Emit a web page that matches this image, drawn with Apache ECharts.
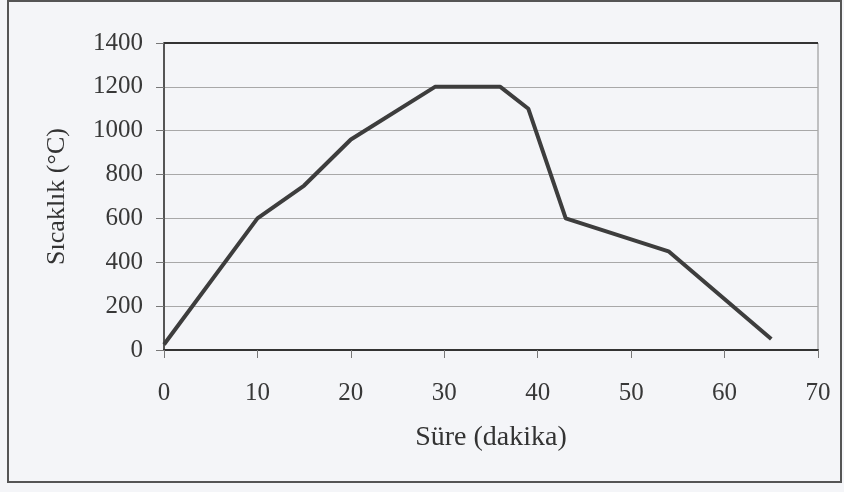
<!DOCTYPE html>
<html>
<head>
<meta charset="utf-8">
<script src="https://cdn.jsdelivr.net/npm/echarts@6/dist/echarts.min.js"></script>
<style>
html,body{margin:0;padding:0;background:#f4f5f8;}
#c{width:844px;height:492px;}
</style>
</head>
<body>
<div id="c"></div>
<script>
// Data
const timeMin = [0, 10, 15, 20, 29, 36, 39, 43, 54, 65];
const tempC   = [25, 600, 750, 960, 1200, 1200, 1100, 600, 450, 50];
const xTicks = [0, 10, 20, 30, 40, 50, 60, 70];
const yTicks = [0, 200, 400, 600, 800, 1000, 1200, 1400];
const xTitle = 'Süre (dakika)';
const yTitle = 'Sıcaklık (°C)';

const chart = echarts.init(document.getElementById('c'), null, {renderer:'canvas'});
const font = "'Liberation Serif', 'Times New Roman', serif";
chart.setOption({
  backgroundColor: '#f4f5f8',
  animation: false,
  graphic: [{
    type: 'rect',
    shape: {x: 8, y: 1, width: 833, height: 481},
    style: {fill: 'none', stroke: '#555', lineWidth: 2},
    silent: true
  }],
  grid: {left: 164, right: 26, top: 43, bottom: 142, show: true,
         borderColor: '#8a8a8a', borderWidth: 1, backgroundColor: 'transparent'},
  xAxis: {
    type: 'value', min: xTicks[0], max: xTicks[xTicks.length-1], interval: 10,
    name: xTitle, nameLocation: 'middle', nameGap: 74,
    nameTextStyle: {fontFamily: font, fontSize: 28, color: '#333'},
    axisLine: {show: true, onZero: false, lineStyle: {color: '#333', width: 2}},
    axisTick: {show: true, length: 8, lineStyle: {color: '#777'}},
    axisLabel: {fontFamily: font, fontSize: 25, color: '#383838', margin: 31,
                formatter: v => String(v)},
    splitLine: {show: false}
  },
  yAxis: {
    type: 'value', min: yTicks[0], max: yTicks[yTicks.length-1], interval: 200,
    name: yTitle, nameLocation: 'middle', nameGap: 94,
    nameTextStyle: {fontFamily: font, fontSize: 26, color: '#333'},
    axisLine: {show: true, onZero: false, lineStyle: {color: '#555', width: 2}},
    axisTick: {show: true, length: 8, lineStyle: {color: '#777'}},
    axisLabel: {fontFamily: font, fontSize: 25, color: '#383838', margin: 21,
                formatter: v => String(v)},
    splitLine: {show: true, lineStyle: {color: '#a8a8a8', width: 1}}
  },
  series: [{
    type: 'line',
    data: timeMin.map((t, i) => [t, tempC[i]]),
    showSymbol: false,
    lineStyle: {color: '#3d3d3d', width: 4, join: 'round'},
    z: 5
  }, {
    // top frame line of the plot area (dark)
    type: 'line',
    data: [[xTicks[0], yTicks[yTicks.length-1]], [xTicks[xTicks.length-1], yTicks[yTicks.length-1]]],
    showSymbol: false,
    lineStyle: {color: '#333', width: 2},
    silent: true, z: 4
  }]
});
</script>
</body>
</html>
